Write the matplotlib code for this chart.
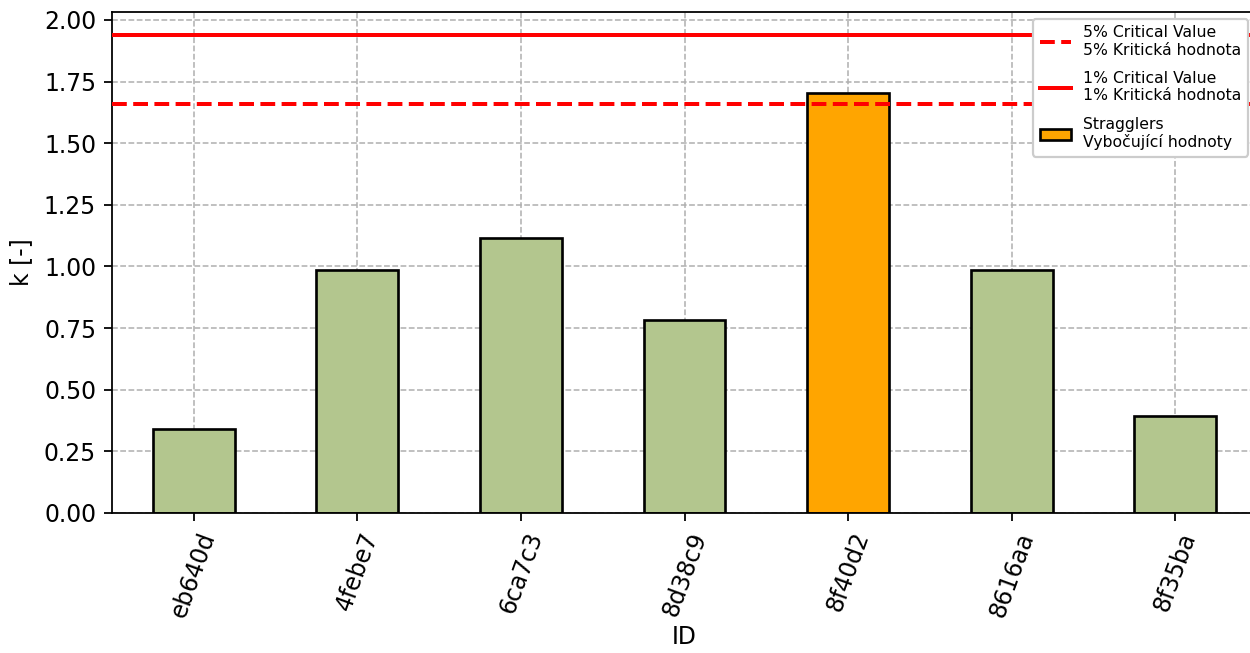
import numpy as np
import matplotlib
matplotlib.use("Agg")
import matplotlib.pyplot as plt
from matplotlib.patches import Patch
from matplotlib.lines import Line2D

# data
ids = ["eb640d", "4febe7", "6ca7c3", "8d38c9", "8f40d2", "8616aa", "8f35ba"]
k_values = [0.341, 0.986, 1.116, 0.783, 1.704, 0.986, 0.393]
crit_5 = 1.659
crit_1 = 1.939

green = "#b3c68e"
orange = "#ffa500"

dpi = 160
plt.rcParams["font.size"] = 10.6
plt.rcParams["xtick.major.size"] = 3.7
plt.rcParams["ytick.major.size"] = 3.7
fig = plt.figure(figsize=(1250 / dpi, 653 / dpi), dpi=dpi)
ax = fig.add_axes([112 / 1250, 140 / 653, 1145 / 1250, 501 / 653])

colors = [orange if v > crit_5 else green for v in k_values]
x = np.arange(len(ids))
ax.bar(x, k_values, width=0.5, color=colors, edgecolor="black", linewidth=1.2, zorder=2)

ax.axhline(crit_5, color="red", linestyle="--", linewidth=1.8, zorder=3)
ax.axhline(crit_1, color="red", linestyle="-", linewidth=1.8, zorder=3)

ax.set_xlim(-0.5, len(ids) - 0.5)
ax.set_ylim(0, 2.032)
ax.set_yticks(np.arange(0, 2.01, 0.25))
ax.set_xticks(x)
ax.set_xticklabels(ids, rotation=70)
ax.set_xlabel("ID", labelpad=2)
ax.set_ylabel("k [-]", labelpad=5)
ax.grid(True, linestyle="--", color="#b0b0b0", linewidth=0.7)
ax.set_axisbelow(True)

handles = [
    Line2D([0], [0], color="red", linestyle="--", linewidth=1.8),
    Line2D([0], [0], color="red", linestyle="-", linewidth=1.8),
    Patch(facecolor=orange, edgecolor="black", linewidth=1.2),
]
labels = [
    "5% Critical Value\n5% Kritická hodnota",
    "1% Critical Value\n1% Kritická hodnota",
    "Stragglers\nVybočující hodnoty",
]
ax.legend(handles, labels, loc="upper right", fontsize=7.05, framealpha=1,
          labelspacing=0.85, borderaxespad=0,
          bbox_to_anchor=(1248 / 1250, 1 - 19 / 653),
          bbox_transform=fig.transFigure)

fig.savefig("out.png", dpi=dpi)
